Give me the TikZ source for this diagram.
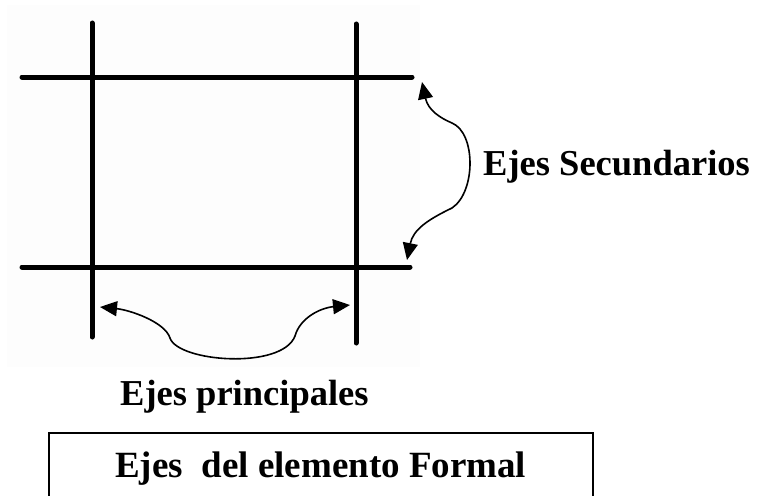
\documentclass[tikz,border=0pt]{standalone}
\usepackage{fontspec}
\setmainfont{Liberation Serif}
\usetikzlibrary{arrows.meta}
\tikzset{
  axisline/.style={line width=5pt, line cap=round, black},
  curvearrow/.style={line width=1.6pt, {Triangle[length=17pt,width=15pt]}-{Triangle[length=17pt,width=15pt]}},
  lbl/.style={font=\fontsize{36.5}{40}\selectfont\bfseries, inner sep=0pt, anchor=base west},
  boxline/.style={line width=1.6pt}
}
\begin{document}
\begin{tikzpicture}[x=1pt,y=-1pt]
\useasboundingbox (0,0) rectangle (757,495);
\clip (0,0) rectangle (757,495);
\fill[black!0.8] (7,5) rectangle (420,367);
% axes
\draw[axisline] (22,77) -- (412,77);
\draw[axisline] (22,267) -- (410,267);
\draw[axisline] (92,23) -- (92,337);
\draw[axisline] (356,24) -- (356,343);
% curved arrows
\draw[curvearrow] (422,82) .. controls (428,110) and (440,118) .. (452,123)
   .. controls (476,133) and (476,192) .. (452,208)
   .. controls (427,220) and (413,230) .. (407,260);
\draw[curvearrow] (100,307) .. controls (130,310) and (165,322) .. (170,338)
   .. controls (178,362) and (282,370) .. (295,336)
   .. controls (300,318) and (320,308) .. (350,305);
% labels
\node[lbl] (sec) at (483,175) {Ejes Secundarios};
\node[lbl] (prin) at (120,405) {Ejes principales};
\draw[boxline] (49,520) -- (49,433) -- (593,433) -- (593,520);
\node[lbl, font=\fontsize{37}{40}\selectfont\bfseries] (form) at (115,477) {Ejes~ del elemento Formal};
\end{tikzpicture}
\end{document}
